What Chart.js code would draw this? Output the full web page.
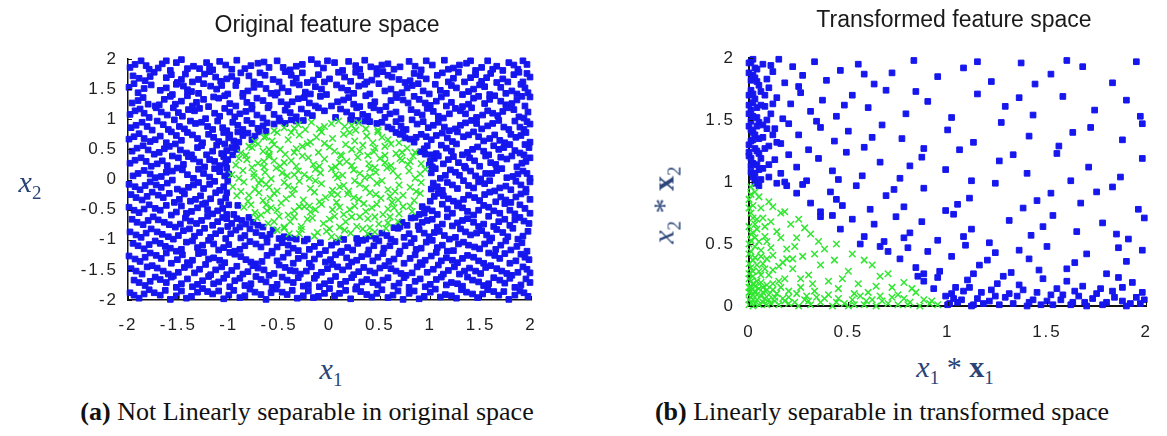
<!DOCTYPE html>
<html>
<head>
<meta charset="utf-8">
<script src="https://cdn.jsdelivr.net/npm/chart.js"></script>
<style>
  body { margin: 0; width: 1167px; height: 436px; background: #fff; position: relative; overflow: hidden; font-family: "Liberation Sans", Arial, sans-serif; }
  .box { position: absolute; top: 0; }
  .lbl { position: absolute; transform: translate(-50%, -50%); white-space: nowrap; }
  .rot { transform: translate(-50%, -50%) rotate(-90deg); }
  .title { font-size: 23px; color: #1a1a1a; }
  .math { font-family: "Liberation Serif", serif; font-size: 30px; color: #2a4478; }
  .math sub { font-size: 19px; font-style: normal; }
  .cap { font-family: "Liberation Serif", "Times New Roman", serif; font-size: 26px; color: #111; }
</style>
</head>
<body>
<div class="box" style="left:0;width:560px;height:345px"><canvas id="chartOrig" width="560" height="345"></canvas></div>
<div class="box" style="left:585px;width:582px;height:345px"><canvas id="chartTrans" width="582" height="345"></canvas></div>

<div class="lbl title" style="left:327px;top:24px">Original feature space</div>
<div class="lbl title" style="left:954px;top:19px">Transformed feature space</div>
<div class="lbl math" style="left:30px;top:184px"><i>x</i><sub>2</sub></div>
<div class="lbl math" style="left:331px;top:371px"><i>x</i><sub>1</sub></div>
<div class="lbl math" style="left:955px;top:369px"><i>x</i><sub>1</sub> * <b>x</b><sub>1</sub></div>
<div class="lbl math rot" style="left:666px;top:205px"><i>x</i><sub>2</sub> * <b>x</b><sub>2</sub></div>
<div class="lbl cap" style="left:307px;top:412px"><b>(a)</b> Not Linearly separable in original space</div>
<div class="lbl cap" style="left:882px;top:412px"><b>(b)</b> Linearly separable in transformed space</div>

<script>
// tick values
const origTicks = [-2, -1.5, -1, -0.5, 0, 0.5, 1, 1.5, 2];
const transTicks = [0, 0.5, 1, 1.5, 2];

// original space, flat x,y pairs (blue = outside unit circle)
const origBlue = [
  -1.98,1.86, -1.87,1.97, -1.79,1.83, -1.66,1.92, -1.58,1.81, -1.47,1.99, -1.35,1.88, -1.22,1.94, -1.16,1.82, -1.03,1.90, -0.92,1.98, -0.84,1.84, -0.71,1.93, -0.60,1.86, -0.52,1.97, -0.39,1.82, -0.27,1.91, -0.18,1.99, -0.06,1.85, 0.05,1.94, 0.13,1.81, 0.26,1.89, 0.35,1.98, 0.47,1.84, 0.58,1.92, 0.70,1.87, 0.79,1.96, 0.91,1.82, 1.02,1.90, 1.14,1.98, 1.23,1.85, 1.36,1.93, 1.45,1.81, 1.57,1.97, 1.66,1.88, 1.78,1.94, 1.87,1.83, 1.96,1.91,
  -1.95,1.72, -1.83,1.64, -1.74,1.78, -1.62,1.69, -1.51,1.61, -1.43,1.75, -1.30,1.66, -1.19,1.79, -1.08,1.63, -0.97,1.71, -0.88,1.77, -0.75,1.62, -0.64,1.73, -0.56,1.66, -0.44,1.79, -0.33,1.68, -0.22,1.61, -0.11,1.74, 0.00,1.67, 0.09,1.78, 0.21,1.63, 0.31,1.72, 0.42,1.65, 0.53,1.79, 0.62,1.70, 0.75,1.61, 0.84,1.76, 0.96,1.67, 1.07,1.73, 1.18,1.62, 1.28,1.78, 1.40,1.69, 1.51,1.63, 1.60,1.76, 1.72,1.67, 1.83,1.74, 1.92,1.62, 1.99,1.70,
  -1.99,1.53, -1.90,1.44, -1.77,1.57, -1.68,1.48, -1.56,1.41, -1.45,1.55, -1.37,1.46, -1.25,1.59, -1.12,1.50, -1.01,1.42, -0.93,1.56, -0.81,1.47, -0.69,1.58, -0.58,1.43, -0.47,1.52, -0.36,1.60, -0.24,1.45, -0.14,1.54, -0.03,1.41, 0.07,1.57, 0.18,1.48, 0.29,1.55, 0.40,1.42, 0.49,1.59, 0.61,1.50, 0.72,1.44, 0.82,1.56, 0.93,1.47, 1.05,1.58, 1.16,1.43, 1.26,1.52, 1.38,1.46, 1.49,1.57, 1.59,1.41, 1.70,1.53, 1.81,1.47, 1.90,1.58, 1.97,1.44,
  -1.96,1.27, -1.85,1.36, -1.73,1.22, -1.64,1.33, -1.53,1.25, -1.41,1.39, -1.32,1.28, -1.20,1.21, -1.10,1.35, -0.99,1.26, -0.86,1.38, -0.77,1.23, -0.66,1.31, -0.54,1.40, -0.42,1.24, -0.31,1.34, -0.20,1.27, -0.09,1.38, 0.02,1.22, 0.14,1.32, 0.24,1.25, 0.36,1.39, 0.45,1.29, 0.56,1.21, 0.67,1.36, 0.78,1.27, 0.89,1.33, 1.00,1.23, 1.11,1.37, 1.21,1.28, 1.32,1.21, 1.43,1.35, 1.54,1.26, 1.64,1.39, 1.75,1.24, 1.86,1.32, 1.94,1.22, 1.99,1.37,
  -1.98,1.08, -1.88,1.17, -1.79,1.03, -1.67,1.12, -1.55,1.19, -1.46,1.05, -1.34,1.14, -1.23,1.01, -1.14,1.10, -1.04,1.18, -0.94,1.04, -0.83,1.13, -0.72,1.07, -0.61,1.19, -0.50,1.02, -0.39,1.11, -0.28,1.17, -0.17,1.06, -0.05,1.14, 0.06,1.03, 0.17,1.12, 0.27,1.19, 0.38,1.05, 0.50,1.15, 0.60,1.09, 0.71,1.01, 0.81,1.16, 0.92,1.07, 1.03,1.13, 1.13,1.02, 1.25,1.18, 1.35,1.09, 1.46,1.03, 1.57,1.14, 1.67,1.06, 1.77,1.19, 1.88,1.04, 1.97,1.12,
  -1.97,0.86, -1.86,0.95, -1.76,0.82, -1.65,0.91, -1.54,0.99, -1.44,0.84, -1.33,0.93, -1.21,0.88, -1.11,0.97, -1.02,0.81, -0.91,0.90, -0.82,0.98, -0.71,0.85, -0.62,0.94, -0.49,0.97, -0.38,0.99, -0.26,0.98, 0.21,0.99, 0.35,0.97, 0.47,0.93, 0.58,0.87, 0.66,0.96, 0.76,0.83, 0.87,0.92, 0.98,0.86, 1.08,0.95, 1.19,0.81, 1.30,0.90, 1.41,0.98, 1.51,0.84, 1.62,0.93, 1.73,0.87, 1.84,0.97, 1.93,0.83, 1.99,0.92,
  -1.99,0.67, -1.89,0.76, -1.78,0.63, -1.68,0.72, -1.57,0.79, -1.47,0.65, -1.36,0.74, -1.26,0.61, -1.15,0.70, -1.05,0.78, -0.95,0.64, -0.86,0.73, -0.77,0.66, -0.70,0.79, -0.63,0.80, 0.66,0.78, 0.75,0.69, 0.84,0.62, 0.91,0.75, 1.01,0.66, 1.12,0.77, 1.22,0.63, 1.33,0.71, 1.43,0.79, 1.53,0.64, 1.64,0.74, 1.74,0.61, 1.85,0.70, 1.95,0.78,
  -1.96,0.47, -1.85,0.56, -1.74,0.42, -1.64,0.51, -1.53,0.59, -1.42,0.44, -1.31,0.53, -1.22,0.41, -1.12,0.57, -1.02,0.48, -0.93,0.59, -0.96,0.41, 0.90,0.46, 0.97,0.56, 1.06,0.43, 1.16,0.52, 1.26,0.59, 1.37,0.45, 1.47,0.54, 1.58,0.41, 1.68,0.50, 1.79,0.58, 1.89,0.44, 1.98,0.53,
  -1.98,0.27, -1.87,0.36, -1.77,0.22, -1.66,0.31, -1.56,0.39, -1.45,0.25, -1.35,0.34, -1.24,0.21, -1.14,0.30, -1.05,0.38, 0.99,0.24, 1.04,0.35, 1.13,0.26, 1.23,0.38, 1.34,0.22, 1.44,0.31, 1.55,0.39, 1.65,0.25, 1.76,0.34, 1.86,0.21, 1.95,0.30,
  -1.95,0.06, -1.84,0.15, -1.73,0.03, -1.62,0.12, -1.51,0.19, -1.41,0.08, -1.30,0.17, -1.19,0.04, -1.09,0.13, -1.02,0.19, 1.01,0.11, 1.10,0.02, 1.20,0.16, 1.29,0.07, 1.40,0.14, 1.50,0.01, 1.61,0.10, 1.71,0.18, 1.82,0.05, 1.92,0.14, 1.99,0.02,
  -1.99,-0.08, -1.88,-0.17, -1.78,-0.04, -1.67,-0.13, -1.56,-0.01, -1.46,-0.19, -1.35,-0.09, -1.25,-0.15, -1.14,-0.03, -1.05,-0.12, 1.03,-0.06, 1.12,-0.18, 1.22,-0.09, 1.33,-0.02, 1.43,-0.14, 1.54,-0.07, 1.64,-0.19, 1.75,-0.11, 1.85,-0.03, 1.95,-0.16,
  -1.97,-0.25, -1.86,-0.34, -1.76,-0.21, -1.65,-0.30, -1.54,-0.38, -1.44,-0.24, -1.33,-0.33, -1.23,-0.39, -1.13,-0.22, -1.03,-0.31, 1.00,-0.36, 1.08,-0.23, 1.18,-0.32, 1.28,-0.39, 1.38,-0.26, 1.49,-0.35, 1.59,-0.21, 1.70,-0.29, 1.80,-0.38, 1.90,-0.24, 1.99,-0.33,
  -1.99,-0.46, -1.89,-0.55, -1.79,-0.42, -1.68,-0.51, -1.57,-0.59, -1.47,-0.44, -1.37,-0.53, -1.26,-0.41, -1.16,-0.57, -1.06,-0.48, -0.95,-0.58, -0.91,-0.43, 0.92,-0.45, 0.89,-0.58, 1.02,-0.52, 1.12,-0.41, 1.22,-0.56, 1.32,-0.47, 1.43,-0.59, 1.53,-0.43, 1.63,-0.52, 1.74,-0.40, 1.84,-0.57, 1.94,-0.48,
  -1.96,-0.66, -1.85,-0.75, -1.75,-0.62, -1.64,-0.71, -1.53,-0.79, -1.43,-0.64, -1.32,-0.73, -1.21,-0.61, -1.11,-0.70, -1.01,-0.78, -0.92,-0.65, -0.83,-0.74, -0.80,-0.63, -0.66,-0.79, 0.64,-0.80, 0.72,-0.71, 0.81,-0.64, 0.88,-0.77, 0.97,-0.68, 1.07,-0.79, 1.17,-0.62, 1.27,-0.72, 1.37,-0.65, 1.48,-0.78, 1.58,-0.61, 1.68,-0.70, 1.79,-0.76, 1.89,-0.63, 1.98,-0.73,
  -1.98,-0.87, -1.87,-0.96, -1.77,-0.82, -1.66,-0.91, -1.55,-0.99, -1.45,-0.85, -1.34,-0.94, -1.24,-0.81, -1.13,-0.90, -1.03,-0.98, -0.93,-0.84, -0.84,-0.93, -0.73,-0.88, -0.62,-0.97, -0.56,-0.84, -0.45,-0.95, -0.33,-0.99, 0.27,-0.98, 0.40,-0.94, 0.52,-0.89, 0.61,-0.99, 0.68,-0.81, 0.79,-0.90, 0.89,-0.83, 0.99,-0.95, 1.09,-0.86, 1.19,-0.99, 1.30,-0.82, 1.40,-0.92, 1.51,-0.85, 1.61,-0.97, 1.72,-0.88, 1.82,-0.81, 1.92,-0.94,
  -1.95,-1.06, -1.84,-1.15, -1.73,-1.02, -1.63,-1.11, -1.52,-1.19, -1.42,-1.04, -1.31,-1.13, -1.20,-1.01, -1.10,-1.17, -1.00,-1.08, -0.89,-1.16, -0.79,-1.03, -0.68,-1.12, -0.57,-1.19, -0.47,-1.05, -0.36,-1.14, -0.25,-1.02, -0.15,-1.11, -0.04,-1.18, 0.07,-1.04, 0.18,-1.13, 0.28,-1.06, 0.39,-1.17, 0.49,-1.02, 0.60,-1.10, 0.70,-1.19, 0.81,-1.05, 0.91,-1.14, 1.02,-1.01, 1.12,-1.09, 1.23,-1.18, 1.33,-1.04, 1.44,-1.12, 1.54,-1.07, 1.65,-1.16, 1.75,-1.02, 1.86,-1.11, 1.96,-1.19,
  -1.99,-1.27, -1.88,-1.36, -1.78,-1.22, -1.67,-1.31, -1.57,-1.39, -1.46,-1.25, -1.36,-1.34, -1.25,-1.21, -1.15,-1.30, -1.04,-1.38, -0.94,-1.24, -0.83,-1.33, -0.73,-1.40, -0.62,-1.26, -0.52,-1.35, -0.41,-1.22, -0.31,-1.31, -0.20,-1.39, -0.10,-1.24, 0.01,-1.33, 0.11,-1.21, 0.22,-1.37, 0.32,-1.28, 0.43,-1.35, 0.53,-1.23, 0.64,-1.32, 0.74,-1.39, 0.85,-1.25, 0.95,-1.34, 1.06,-1.21, 1.16,-1.30, 1.27,-1.38, 1.37,-1.26, 1.48,-1.35, 1.58,-1.22, 1.69,-1.31, 1.79,-1.39, 1.90,-1.24, 1.98,-1.33,
  -1.97,-1.48, -1.86,-1.57, -1.76,-1.43, -1.65,-1.52, -1.55,-1.60, -1.44,-1.46, -1.34,-1.55, -1.23,-1.41, -1.13,-1.50, -1.02,-1.58, -0.92,-1.44, -0.81,-1.53, -0.71,-1.47, -0.60,-1.59, -0.50,-1.42, -0.39,-1.51, -0.29,-1.57, -0.18,-1.45, -0.08,-1.54, 0.03,-1.41, 0.13,-1.50, 0.24,-1.58, 0.34,-1.46, 0.45,-1.55, 0.55,-1.43, 0.66,-1.52, 0.76,-1.59, 0.87,-1.45, 0.97,-1.54, 1.08,-1.42, 1.18,-1.51, 1.29,-1.57, 1.39,-1.47, 1.50,-1.56, 1.60,-1.43, 1.71,-1.52, 1.81,-1.59, 1.92,-1.45, 1.99,-1.55,
  -1.94,-1.67, -1.83,-1.76, -1.73,-1.62, -1.62,-1.71, -1.52,-1.79, -1.41,-1.65, -1.31,-1.74, -1.20,-1.61, -1.10,-1.70, -0.99,-1.78, -0.89,-1.64, -0.78,-1.73, -0.68,-1.66, -0.57,-1.79, -0.47,-1.62, -0.36,-1.71, -0.26,-1.77, -0.15,-1.64, -0.05,-1.73, 0.06,-1.61, 0.16,-1.69, 0.27,-1.78, 0.37,-1.66, 0.48,-1.75, 0.58,-1.63, 0.69,-1.72, 0.79,-1.79, 0.90,-1.65, 1.00,-1.74, 1.11,-1.62, 1.21,-1.71, 1.32,-1.77, 1.42,-1.67, 1.53,-1.76, 1.63,-1.63, 1.74,-1.72, 1.84,-1.79, 1.95,-1.65,
  -1.98,-1.88, -1.89,-1.97, -1.79,-1.83, -1.68,-1.92, -1.58,-1.99, -1.47,-1.85, -1.37,-1.94, -1.26,-1.81, -1.16,-1.90, -1.05,-1.98, -0.95,-1.84, -0.84,-1.93, -0.74,-1.87, -0.63,-1.99, -0.53,-1.82, -0.42,-1.91, -0.32,-1.97, -0.21,-1.85, -0.11,-1.94, 0.00,-1.81, 0.10,-1.89, 0.21,-1.98, 0.31,-1.86, 0.42,-1.95, 0.52,-1.83, 0.63,-1.92, 0.73,-1.99, 0.84,-1.85, 0.94,-1.94, 1.05,-1.82, 1.15,-1.91, 1.26,-1.97, 1.36,-1.87, 1.47,-1.96, 1.57,-1.83, 1.68,-1.92, 1.78,-1.99, 1.89,-1.85, 1.97,-1.94,
  -1.93,1.91, -1.70,1.85, -1.52,1.94, -1.29,1.84, -1.09,1.96, -0.78,1.89, -0.46,1.86, -0.12,1.92, 0.19,1.96, 0.41,1.87, 0.64,1.83, 0.96,1.97, 1.29,1.90, 1.51,1.86, 1.72,1.81, 1.92,1.97,
  -1.89,1.68, -1.57,1.74, -1.36,1.62, -1.13,1.70, -0.92,1.64, -0.69,1.77, -0.38,1.73, -0.16,1.65, 0.15,1.70, 0.47,1.75, 0.69,1.66, 0.90,1.72, 1.23,1.68, 1.45,1.74, 1.66,1.61, 1.88,1.78,
  -1.94,1.59, -1.62,1.52, -1.41,1.49, -1.18,1.55, -0.86,1.43, -0.63,1.51, -0.41,1.46, -0.08,1.50, 0.24,1.43, 0.55,1.47, 0.77,1.52, 0.99,1.42, 1.21,1.56, 1.43,1.50, 1.75,1.43, 1.94,1.52,
  -1.90,1.31, -1.69,1.24, -1.47,1.30, -1.15,1.37, -0.93,1.22, -0.72,1.35, -0.48,1.29, -0.25,1.36, 0.08,1.29, 0.30,1.21, 0.61,1.31, 0.84,1.38, 1.06,1.30, 1.38,1.25, 1.59,1.33, 1.81,1.26,
  -1.93,1.14, -1.61,1.07, -1.40,1.16, -1.09,1.05, -0.89,1.09, -0.66,1.02, -0.44,1.15, -0.22,1.10, 0.11,1.17, 0.33,1.08, 0.55,1.03, 0.87,1.11, 1.08,1.05, 1.30,1.14, 1.62,1.10, 1.83,1.16,
  -1.92,0.90, -1.71,0.97, -1.49,0.88, -1.27,0.95, -1.06,0.86, -0.86,0.83, -0.66,0.89, -0.55,0.92, -0.33,0.97, 0.28,0.98, 0.52,0.95, 0.71,0.89, 0.93,0.96, 1.14,0.87, 1.35,0.94, 1.57,0.89, 1.78,0.83, 1.96,0.96,
  -1.94,0.71, -1.73,0.66, -1.52,0.73, -1.31,0.68, -1.10,0.63, -0.99,0.74, -0.90,0.62, -0.81,0.77, 0.70,0.75, 0.80,0.67, 0.96,0.71, 1.17,0.69, 1.38,0.74, 1.59,0.68, 1.80,0.75, 1.99,0.62,
  -1.91,0.52, -1.69,0.45, -1.48,0.49, -1.27,0.56, -1.07,0.43, -0.97,0.53, 0.94,0.51, 1.01,0.41, 1.21,0.47, 1.42,0.50, 1.63,0.56, 1.84,0.48, 1.94,0.58,
  -1.93,0.32, -1.71,0.26, -1.50,0.36, -1.29,0.29, -1.09,0.23, -1.01,0.33, 1.00,0.30, 1.08,0.39, 1.28,0.28, 1.49,0.22, 1.70,0.37, 1.91,0.27,
  -1.90,0.10, -1.67,0.05, -1.46,0.16, -1.25,0.10, -1.04,0.06, 1.05,0.18, 1.25,0.12, 1.45,0.06, 1.66,0.15, 1.87,0.09,
  -1.93,-0.12, -1.72,-0.09, -1.51,-0.16, -1.30,-0.05, -1.09,-0.18, 1.07,-0.12, 1.27,-0.15, 1.48,-0.04, 1.69,-0.14, 1.90,-0.09,
  -1.92,-0.30, -1.70,-0.26, -1.49,-0.33, -1.28,-0.27, -1.08,-0.37, 1.04,-0.28, 1.23,-0.36, 1.44,-0.30, 1.65,-0.37, 1.85,-0.29,
  -1.94,-0.51, -1.73,-0.48, -1.52,-0.54, -1.31,-0.47, -1.11,-0.52, -1.00,-0.42, 0.97,-0.49, 1.07,-0.58, 1.27,-0.44, 1.48,-0.51, 1.69,-0.56, 1.89,-0.42,
  -1.91,-0.71, -1.70,-0.67, -1.48,-0.74, -1.27,-0.68, -1.06,-0.63, -0.97,-0.73, -0.87,-0.68, -0.71,-0.76, 0.77,-0.76, 0.92,-0.71, 1.12,-0.74, 1.32,-0.68, 1.53,-0.74, 1.74,-0.66, 1.93,-0.69,
  -1.92,-0.92, -1.71,-0.87, -1.50,-0.93, -1.29,-0.88, -1.08,-0.85, -0.88,-0.97, -0.67,-0.93, -0.50,-0.98, -0.22,-0.99, 0.46,-0.98, 0.74,-0.96, 0.94,-0.89, 1.14,-0.93, 1.35,-0.87, 1.56,-0.92, 1.77,-0.95, 1.97,-0.86,
  -1.90,-1.10, -1.68,-1.06, -1.47,-1.16, -1.26,-1.09, -1.05,-1.13, -0.84,-1.10, -0.62,-1.04, -0.41,-1.09, -0.20,-1.16, 0.02,-1.09, 0.23,-1.17, 0.44,-1.10, 0.65,-1.03, 0.86,-1.16, 1.07,-1.13, 1.28,-1.07, 1.49,-1.15, 1.70,-1.09, 1.91,-1.05,
  -1.93,-1.32, -1.72,-1.26, -1.51,-1.33, -1.30,-1.23, -1.09,-1.34, -0.88,-1.28, -0.67,-1.36, -0.46,-1.29, -0.25,-1.27, -0.04,-1.37, 0.17,-1.30, 0.38,-1.24, 0.59,-1.36, 0.80,-1.31, 1.01,-1.27, 1.22,-1.34, 1.43,-1.29, 1.64,-1.26, 1.85,-1.35,
  -1.92,-1.52, -1.71,-1.47, -1.50,-1.54, -1.29,-1.49, -1.07,-1.45, -0.86,-1.57, -0.65,-1.50, -0.44,-1.46, -0.23,-1.52, -0.02,-1.48, 0.19,-1.44, 0.40,-1.52, 0.61,-1.48, 0.82,-1.55, 1.03,-1.49, 1.24,-1.45, 1.45,-1.52, 1.66,-1.48, 1.87,-1.54,
  -1.89,-1.71, -1.68,-1.66, -1.47,-1.73, -1.26,-1.68, -1.05,-1.64, -0.84,-1.76, -0.63,-1.70, -0.42,-1.67, -0.21,-1.75, 0.01,-1.68, 0.22,-1.63, 0.43,-1.71, 0.64,-1.77, 0.85,-1.69, 1.06,-1.66, 1.27,-1.73, 1.48,-1.70, 1.69,-1.67, 1.90,-1.75,
  -1.94,-1.92, -1.74,-1.88, -1.52,-1.93, -1.31,-1.87, -1.10,-1.85, -0.89,-1.96, -0.68,-1.91, -0.47,-1.87, -0.26,-1.93, -0.05,-1.89, 0.16,-1.84, 0.37,-1.91, 0.58,-1.96, 0.79,-1.89, 1.00,-1.87, 1.21,-1.93, 1.42,-1.90, 1.63,-1.86, 1.84,-1.92,
  -1.82,1.89, -1.62,1.97, -1.41,1.84, -1.19,1.88, -0.97,1.83, -0.65,1.95, -0.33,1.88, -0.02,1.97, 0.30,1.83, 0.52,1.90, 0.85,1.88, 1.18,1.83, 1.40,1.97, 1.62,1.83, 1.83,1.90,
  -1.78,1.71, -1.47,1.66, -1.24,1.75, -1.02,1.67, -0.80,1.72, -0.50,1.62, -0.27,1.77, -0.05,1.62, 0.26,1.78, 0.37,1.62, 0.58,1.73, 0.80,1.64, 1.12,1.77, 1.34,1.62, 1.56,1.69, 1.77,1.62, 1.96,1.76,
  -1.84,1.51, -1.52,1.58, -1.30,1.43, -1.07,1.56, -0.75,1.53, -0.52,1.44, -0.30,1.57, -0.19,1.42, 0.12,1.52, 0.35,1.58, 0.66,1.41, 0.88,1.59, 1.10,1.48, 1.32,1.41, 1.54,1.54, 1.86,1.42,
  -1.80,1.25, -1.58,1.38, -1.36,1.22, -1.25,1.33, -1.04,1.39, -0.82,1.28, -0.60,1.23, -0.37,1.29, -0.14,1.22, 0.19,1.36, 0.41,1.23, 0.73,1.32, 0.95,1.27, 1.16,1.22, 1.48,1.38, 1.70,1.30, 1.91,1.38,
  -1.84,1.10, -1.72,1.19, -1.50,1.11, -1.29,1.18, -0.99,1.12, -0.77,1.17, -0.55,1.08, -0.33,1.04, -0.11,1.19, 0.22,1.06, 0.44,1.19, 0.66,1.12, 0.97,1.18, 1.19,1.09, 1.41,1.19, 1.52,1.07, 1.72,1.13, 1.93,1.02,
  -1.81,0.88, -1.60,0.83, -1.38,0.97, -1.16,0.83, -0.96,0.95, -0.77,0.93, -0.44,0.93, 0.40,0.96, 0.62,0.84, 0.82,0.99, 1.03,0.90, 1.25,0.84, 1.46,0.93, 1.68,0.98, 1.89,0.87,
  -1.84,0.68, -1.62,0.61, -1.41,0.78, -1.20,0.75, -1.00,0.69, -0.91,0.79, -0.74,0.72, 0.73,0.79, 0.86,0.70, 1.06,0.73, 1.27,0.79, 1.48,0.71, 1.69,0.65, 1.90,0.73,
  -1.80,0.49, -1.59,0.55, -1.37,0.41, -1.16,0.47, -1.04,0.59, -0.92,0.50, 0.95,0.42, 1.11,0.57, 1.32,0.41, 1.53,0.47, 1.73,0.53, 1.93,0.41,
  -1.82,0.30, -1.61,0.23, -1.40,0.38, -1.19,0.33, -1.03,0.27, 1.02,0.21, 1.18,0.33, 1.39,0.36, 1.60,0.28, 1.81,0.39, 1.99,0.36,
  -1.78,0.09, -1.56,0.14, -1.35,0.02, -1.14,0.18, -1.00,0.09, 1.15,0.07, 1.35,0.19, 1.55,0.10, 1.76,0.03, 1.96,0.10,
  -1.83,-0.10, -1.61,-0.06, -1.40,-0.13, -1.19,-0.08, -1.01,-0.03, 1.01,-0.16, 1.17,-0.05, 1.38,-0.10, 1.59,-0.02, 1.80,-0.17, 1.99,-0.04,
  -1.81,-0.28, -1.59,-0.23, -1.38,-0.36, -1.18,-0.32, -1.02,-0.22, 1.13,-0.27, 1.33,-0.33, 1.54,-0.25, 1.75,-0.34, 1.95,-0.21,
  -1.84,-0.49, -1.62,-0.43, -1.42,-0.56, -1.21,-0.50, -1.02,-0.58, 0.94,-0.56, 1.17,-0.49, 1.37,-0.53, 1.58,-0.46, 1.79,-0.51, 1.99,-0.56,
  -1.80,-0.68, -1.59,-0.75, -1.38,-0.69, -1.16,-0.76, -1.02,-0.65, -0.89,-0.79, -0.76,-0.71, 0.70,-0.78, 0.85,-0.63, 1.02,-0.66, 1.22,-0.77, 1.43,-0.71, 1.63,-0.78, 1.84,-0.67,
  -1.82,-0.89, -1.60,-0.95, -1.39,-0.82, -1.18,-0.96, -0.98,-0.90, -0.79,-0.82, -0.59,-0.91, -0.39,-0.97, 0.14,-0.995, 0.36,-0.99, 0.57,-0.93, 0.84,-0.98, 1.04,-0.88, 1.25,-0.96, 1.46,-0.89, 1.66,-0.83, 1.87,-0.99,
  -1.79,-1.08, -1.58,-1.14, -1.36,-1.02, -1.15,-1.07, -0.94,-1.19, -0.73,-1.07, -0.52,-1.12, -0.31,-1.18, -0.09,-1.05, 0.12,-1.19, 0.33,-1.01, 0.54,-1.14, 0.75,-1.10, 0.96,-1.04, 1.17,-1.19, 1.38,-1.09, 1.59,-1.02, 1.80,-1.17,
  -1.83,-1.29, -1.62,-1.22, -1.41,-1.38, -1.20,-1.32, -0.99,-1.21, -0.78,-1.37, -0.57,-1.22, -0.36,-1.39, -0.15,-1.32, 0.06,-1.25, 0.27,-1.34, 0.48,-1.29, 0.69,-1.23, 0.90,-1.38, 1.11,-1.35, 1.32,-1.31, 1.53,-1.39, 1.74,-1.23, 1.94,-1.29,
  -1.81,-1.45, -1.60,-1.57, -1.39,-1.42, -1.18,-1.58, -0.97,-1.51, -0.76,-1.43, -0.55,-1.56, -0.34,-1.52, -0.13,-1.59, 0.08,-1.45, 0.29,-1.53, 0.50,-1.47, 0.71,-1.56, 0.92,-1.41, 1.13,-1.57, 1.34,-1.52, 1.55,-1.46, 1.76,-1.56, 1.96,-1.49,
  -1.78,-1.69, -1.57,-1.62, -1.36,-1.78, -1.15,-1.73, -0.94,-1.68, -0.73,-1.61, -0.52,-1.74, -0.31,-1.63, -0.10,-1.78, 0.11,-1.74, 0.32,-1.70, 0.53,-1.67, 0.74,-1.63, 0.95,-1.78, 1.16,-1.75, 1.37,-1.62, 1.58,-1.73, 1.79,-1.64, 1.99,-1.71,
  -1.84,-1.90, -1.63,-1.84, -1.42,-1.97, -1.21,-1.86, -1.00,-1.92, -0.79,-1.82, -0.58,-1.88, -0.37,-1.84, -0.16,-1.96, 0.05,-1.93, 0.26,-1.82, 0.47,-1.89, 0.68,-1.85, 0.89,-1.98, 1.10,-1.95, 1.31,-1.83, 1.52,-1.90, 1.73,-1.86, 1.93,-1.88
];

// original space, green = inside unit circle
const origGreen = [
  -0.45,0.86, -0.31,0.91, -0.18,0.95, -0.05,0.88, 0.09,0.97, 0.22,0.90, 0.36,0.84, 0.48,0.82, -0.55,0.81, 0.02,0.93, -0.24,0.83, 0.29,0.94,
  -0.74,0.63, -0.63,0.71, -0.52,0.78, -0.41,0.66, -0.30,0.74, -0.19,0.62, -0.08,0.79, 0.03,0.68, 0.14,0.75, 0.25,0.64, 0.37,0.72, 0.48,0.79, 0.58,0.66, 0.69,0.61, -0.57,0.64, -0.13,0.70, 0.20,0.78, 0.43,0.61,
  -0.88,0.44, -0.77,0.53, -0.66,0.47, -0.55,0.58, -0.44,0.42, -0.33,0.51, -0.22,0.59, -0.11,0.45, 0.00,0.54, 0.11,0.41, 0.22,0.50, 0.33,0.57, 0.44,0.46, 0.55,0.55, 0.66,0.43, 0.77,0.52, 0.85,0.45, -0.71,0.59, -0.49,0.50, 0.05,0.47, 0.38,0.40, 0.61,0.59,
  -0.93,0.24, -0.82,0.33, -0.71,0.27, -0.60,0.38, -0.49,0.22, -0.38,0.31, -0.27,0.39, -0.16,0.25, -0.05,0.34, 0.06,0.21, 0.17,0.30, 0.28,0.37, 0.39,0.26, 0.50,0.35, 0.61,0.23, 0.72,0.32, 0.83,0.39, 0.91,0.26, -0.65,0.21, -0.21,0.36, 0.12,0.39, 0.45,0.20,
  -0.97,0.08, -0.86,0.15, -0.75,0.04, -0.64,0.12, -0.53,0.19, -0.42,0.06, -0.31,0.14, -0.20,0.02, -0.09,0.11, 0.02,0.18, 0.13,0.07, 0.24,0.16, 0.35,0.03, 0.46,0.12, 0.57,0.19, 0.68,0.05, 0.79,0.14, 0.90,0.09, 0.95,0.17, -0.58,0.01, -0.14,0.17, 0.30,0.10,
  -0.96,-0.12, -0.85,-0.04, -0.74,-0.16, -0.63,-0.08, -0.52,-0.19, -0.41,-0.11, -0.30,-0.03, -0.19,-0.15, -0.08,-0.07, 0.03,-0.18, 0.14,-0.10, 0.25,-0.02, 0.36,-0.14, 0.47,-0.06, 0.58,-0.17, 0.69,-0.09, 0.80,-0.13, 0.91,-0.05, -0.68,-0.01, 0.19,-0.19, 0.52,-0.02,
  -0.92,-0.27, -0.81,-0.36, -0.70,-0.22, -0.59,-0.31, -0.48,-0.39, -0.37,-0.25, -0.26,-0.34, -0.15,-0.21, -0.04,-0.30, 0.07,-0.38, 0.18,-0.24, 0.29,-0.33, 0.40,-0.22, 0.51,-0.31, 0.62,-0.38, 0.73,-0.26, 0.84,-0.35, 0.90,-0.23, -0.55,-0.23, -0.10,-0.37, 0.34,-0.40,
  -0.85,-0.46, -0.74,-0.55, -0.63,-0.42, -0.52,-0.51, -0.41,-0.59, -0.30,-0.45, -0.19,-0.54, -0.08,-0.41, 0.03,-0.50, 0.14,-0.58, 0.25,-0.44, 0.36,-0.53, 0.47,-0.41, 0.58,-0.49, 0.69,-0.57, 0.80,-0.44, 0.82,-0.53, -0.68,-0.59, -0.35,-0.52, 0.10,-0.46, 0.53,-0.58,
  -0.72,-0.64, -0.61,-0.73, -0.50,-0.61, -0.39,-0.70, -0.28,-0.78, -0.17,-0.64, -0.06,-0.73, 0.05,-0.61, 0.16,-0.70, 0.27,-0.78, 0.38,-0.65, 0.49,-0.74, 0.60,-0.62, 0.68,-0.70, -0.45,-0.79, 0.10,-0.79, -0.22,-0.66,
  -0.52,-0.84, -0.40,-0.90, -0.28,-0.83, -0.15,-0.94, -0.03,-0.86, 0.09,-0.97, 0.21,-0.89, 0.33,-0.82, 0.45,-0.87, 0.56,-0.81, 0.02,-0.95, -0.45,-0.81,
  -0.80,0.55, -0.60,0.50, -0.35,0.45, -0.05,0.60, 0.30,0.47, 0.70,0.35, -0.90,0.35, -0.45,0.28, 0.10,0.28, 0.55,0.28, -0.75,0.10, -0.35,0.08, 0.08,0.03, 0.40,0.18, 0.85,0.02, -0.88,-0.20, -0.45,-0.05, 0.08,-0.25, 0.60,-0.28, -0.78,-0.42, -0.25,-0.45, 0.30,-0.62, 0.73,-0.45, -0.55,-0.70, 0.00,-0.82, 0.40,-0.80, -0.35,0.85, 0.15,0.88, -0.65,0.30, 0.78,0.25,
  -0.65,0.70, -0.38,0.78, -0.10,0.84, 0.26,0.82, 0.52,0.70, -0.83,0.40, -0.60,0.42, -0.27,0.55, 0.16,0.58, 0.45,0.52, 0.72,0.45, -0.77,0.20, -0.55,0.31, -0.33,0.22, -0.10,0.22, 0.22,0.23, 0.55,0.40, 0.80,0.30, -0.90,0.02, -0.70,-0.06, -0.47,0.11, -0.25,0.08, 0.06,0.08, 0.40,0.05, 0.63,0.14, 0.86,-0.20, -0.80,-0.26, -0.60,-0.13, -0.35,-0.16, -0.14,-0.02, 0.10,-0.12, 0.30,-0.08, 0.65,-0.20, -0.66,-0.35, -0.43,-0.32, -0.20,-0.44, 0.02,-0.25, 0.24,-0.30, 0.46,-0.25, 0.68,-0.34, -0.58,-0.47, -0.14,-0.50, 0.20,-0.50, 0.42,-0.47, 0.64,-0.47, -0.35,-0.62, 0.00,-0.66, 0.22,-0.62, 0.45,-0.62, -0.30,-0.90, 0.15,-0.84, 0.38,-0.90, -0.12,-0.88, 0.58,-0.72, -0.62,-0.52
];

// transformed space (x1*x1, x2*x2)
const transBlue = [
  0.01,1.97, 0.02,1.86, 0.03,1.92, 0.05,1.78, 0.07,1.95, 0.09,1.83, 0.12,1.89, 0.15,1.99, 0.18,1.80, 0.22,1.93, 0.27,1.86, 0.33,1.97, 0.39,1.82, 0.46,1.90, 0.55,1.95, 0.63,1.79, 0.72,1.88, 0.83,1.98, 0.95,1.85, 1.08,1.92, 1.22,1.81, 1.37,1.96, 1.52,1.87, 1.68,1.93, 1.83,1.80, 1.95,1.97, 0.04,1.81, 0.10,1.76, 0.25,1.77, 0.58,1.87, 1.15,1.97, 1.60,1.98, 1.44,1.79, 0.02,1.99,
  0.00,1.70, 0.01,1.58, 0.02,1.64, 0.04,1.52, 0.06,1.73, 0.08,1.61, 0.11,1.55, 0.14,1.68, 0.17,1.51, 0.21,1.63, 0.26,1.72, 0.31,1.57, 0.37,1.66, 0.44,1.53, 0.52,1.70, 0.60,1.60, 0.69,1.74, 0.79,1.55, 0.90,1.65, 1.02,1.52, 1.15,1.71, 1.29,1.61, 1.43,1.54, 1.58,1.69, 1.74,1.58, 1.90,1.66, 0.03,1.67, 0.09,1.50, 0.48,1.62, 0.84,1.73, 1.36,1.68, 1.97,1.53,
  0.00,1.45, 0.01,1.33, 0.02,1.40, 0.03,1.27, 0.05,1.48, 0.07,1.36, 0.10,1.29, 0.13,1.43, 0.16,1.31, 0.20,1.47, 0.25,1.38, 0.30,1.26, 0.36,1.44, 0.43,1.33, 0.50,1.41, 0.58,1.28, 0.67,1.46, 0.77,1.35, 0.88,1.27, 1.00,1.42, 1.13,1.32, 1.27,1.48, 1.41,1.37, 1.56,1.29, 1.72,1.44, 1.88,1.34, 0.04,1.25, 0.12,1.38, 0.34,1.49, 0.62,1.36, 1.06,1.26, 1.63,1.40, 1.98,1.47,
  0.00,1.21, 0.01,1.08, 0.02,1.15, 0.03,1.02, 0.05,1.23, 0.07,1.11, 0.10,1.04, 0.13,1.18, 0.16,1.07, 0.20,1.22, 0.24,1.12, 0.29,1.01, 0.35,1.19, 0.42,1.09, 0.49,1.24, 0.57,1.05, 0.66,1.16, 0.76,1.03, 0.87,1.20, 0.99,1.10, 1.12,1.01, 1.26,1.17, 1.40,1.07, 1.55,1.23, 1.71,1.12, 1.87,1.04, 1.98,1.19, 0.04,1.14, 0.18,1.00, 0.45,1.02, 0.81,1.13, 1.33,1.22, 1.62,1.01,
  0.27,0.98, 0.31,0.83, 0.24,0.91, 0.19,0.97, 0.36,0.76, 0.41,0.92, 0.47,0.81, 0.54,0.97, 0.61,0.78, 0.69,0.89, 0.78,0.80, 0.88,0.95, 0.99,0.77, 1.11,0.87, 1.24,0.99, 1.38,0.79, 1.52,0.91, 1.67,0.83, 1.83,0.96, 1.96,0.78, 0.14,0.99, 0.03,0.99, 0.05,0.97, 0.44,0.86, 0.73,0.94, 1.05,0.82, 1.45,0.85, 1.75,0.92,
  0.52,0.70, 0.58,0.56, 0.63,0.66, 0.68,0.52, 0.74,0.72, 0.81,0.59, 0.87,0.68, 0.95,0.53, 1.03,0.74, 1.12,0.62, 1.21,0.51, 1.31,0.69, 1.42,0.57, 1.53,0.73, 1.65,0.60, 1.78,0.67, 1.91,0.54, 1.99,0.71, 0.42,0.73, 0.36,0.72, 0.46,0.62, 0.56,0.50, 0.78,0.55, 1.08,0.56, 1.48,0.64, 1.85,0.58,
  0.80,0.47, 0.76,0.38, 0.84,0.31, 0.90,0.44, 0.96,0.28, 1.02,0.40, 1.09,0.49, 1.16,0.33, 1.24,0.43, 1.32,0.27, 1.41,0.38, 1.50,0.48, 1.60,0.30, 1.70,0.42, 1.80,0.26, 1.90,0.36, 1.98,0.45, 0.70,0.44, 0.66,0.48, 0.88,0.26, 1.13,0.26, 1.36,0.45, 1.64,0.35, 1.86,0.47, 1.46,0.29, 1.20,0.37,
  0.99,0.08, 1.01,0.02, 1.04,0.15, 1.07,0.05, 1.10,0.21, 1.13,0.01, 1.17,0.11, 1.21,0.04, 1.25,0.18, 1.29,0.07, 1.33,0.02, 1.38,0.13, 1.43,0.05, 1.48,0.22, 1.53,0.01, 1.58,0.09, 1.63,0.03, 1.68,0.16, 1.73,0.06, 1.78,0.01, 1.83,0.12, 1.88,0.04, 1.93,0.19, 1.97,0.02, 0.93,0.14, 0.88,0.20, 0.85,0.24, 0.95,0.23, 1.02,0.10, 1.15,0.06, 1.35,0.08, 1.55,0.14, 1.75,0.10, 1.95,0.07, 1.12,0.00, 1.40,0.00, 1.70,0.00, 1.28,0.24, 1.60,0.20, 1.86,0.23, 1.05,0.03, 1.45,0.11, 1.22,0.13, 1.66,0.08, 1.90,0.00,
  0.00,1.88, 0.01,1.74, 0.02,1.53, 0.00,1.30, 0.01,1.19, 0.03,1.38, 0.02,1.04, 0.06,1.62, 0.08,1.27, 0.04,1.91, 0.11,1.94, 0.05,1.10, 0.00,1.62, 0.01,1.42, 0.07,1.46,
  1.26,0.01, 1.50,0.04, 1.80,0.03, 1.62,0.01, 1.08,0.12, 1.98,0.11,
  0.00,1.96, 0.01,1.82, 0.02,1.71, 0.00,1.55, 0.01,1.49, 0.02,1.34, 0.00,1.24, 0.01,1.13, 0.03,1.07, 0.04,1.60, 0.03,1.84, 0.05,1.35, 0.06,1.19, 0.08,1.70, 0.09,1.43, 0.06,1.02, 0.04,1.45, 0.10,1.14, 0.12,1.63, 0.14,1.32,
  1.03,0.06, 1.18,0.02, 1.31,0.10, 1.47,0.01, 1.57,0.05, 1.69,0.03, 1.84,0.07, 1.92,0.02, 1.11,0.15, 1.36,0.17, 1.52,0.09, 1.77,0.14, 1.00,0.01, 1.41,0.03, 1.64,0.12, 1.99,0.05, 1.24,0.08, 1.88,0.15
];

const transGreen = [
  0.00,0.01, 0.01,0.03, 0.02,0.00, 0.00,0.05, 0.03,0.02, 0.01,0.07, 0.05,0.01, 0.02,0.09, 0.04,0.05, 0.07,0.03, 0.00,0.11, 0.06,0.08, 0.09,0.01, 0.03,0.12, 0.08,0.06, 0.01,0.15, 0.11,0.02, 0.05,0.14, 0.10,0.09, 0.13,0.04, 0.02,0.18, 0.07,0.11, 0.15,0.01, 0.12,0.13, 0.04,0.20, 0.17,0.06, 0.00,0.22, 0.09,0.17, 0.20,0.02, 0.14,0.10,
  0.00,0.26, 0.01,0.31, 0.02,0.37, 0.00,0.42, 0.03,0.48, 0.01,0.53, 0.02,0.59, 0.00,0.64, 0.04,0.70, 0.01,0.75, 0.02,0.81, 0.00,0.86, 0.03,0.92, 0.01,0.96, 0.05,0.28, 0.06,0.45, 0.04,0.62, 0.06,0.79, 0.05,0.88, 0.07,0.34, 0.08,0.56, 0.07,0.71, 0.02,0.24, 0.03,0.66, 0.00,0.50, 0.01,0.90,
  0.25,0.00, 0.31,0.01, 0.36,0.03, 0.42,0.00, 0.48,0.02, 0.53,0.01, 0.59,0.04, 0.64,0.00, 0.70,0.02, 0.75,0.01, 0.81,0.03, 0.86,0.00, 0.91,0.02, 0.95,0.01, 0.28,0.05, 0.45,0.06, 0.62,0.05, 0.78,0.06, 0.88,0.05, 0.34,0.07, 0.56,0.08, 0.72,0.07, 0.23,0.03, 0.67,0.04, 0.50,0.00, 0.92,0.04,
  0.10,0.25, 0.15,0.32, 0.12,0.41, 0.18,0.22, 0.22,0.30, 0.09,0.52, 0.14,0.60, 0.11,0.68, 0.16,0.75, 0.10,0.84, 0.19,0.46, 0.24,0.55, 0.21,0.66, 0.27,0.40, 0.30,0.25, 0.26,0.15, 0.33,0.12, 0.36,0.33, 0.40,0.20, 0.45,0.14, 0.50,0.28, 0.55,0.18, 0.60,0.11, 0.66,0.24, 0.72,0.15, 0.78,0.19, 0.84,0.11, 0.38,0.46, 0.31,0.58, 0.43,0.37, 0.52,0.42, 0.62,0.33, 0.25,0.70, 0.18,0.76, 0.35,0.52, 0.12,0.80, 0.47,0.22, 0.58,0.37, 0.70,0.26, 0.20,0.12, 0.29,0.08, 0.40,0.09, 0.12,0.18, 0.08,0.30, 0.23,0.48, 0.06,0.40, 0.16,0.55, 0.44,0.50, 0.33,0.42, 0.28,0.63, 0.19,0.38, 0.53,0.10, 0.64,0.16, 0.75,0.09, 0.82,0.14,
  0.03,0.16, 0.06,0.19, 0.09,0.13, 0.13,0.07, 0.18,0.04, 0.16,0.15, 0.01,0.20, 0.04,0.09, 0.10,0.05, 0.07,0.15,
  0.00,0.15, 0.01,0.12, 0.02,0.05, 0.00,0.34, 0.01,0.44, 0.02,0.28, 0.01,0.58, 0.03,0.39, 0.02,0.71, 0.00,0.79, 0.04,0.33, 0.05,0.52, 0.03,0.55, 0.06,0.25, 0.09,0.38, 0.08,0.64, 0.11,0.47, 0.12,0.29, 0.15,0.20, 0.20,0.07, 0.24,0.10, 0.30,0.04, 0.38,0.06, 0.44,0.03, 0.52,0.05, 0.58,0.01, 0.66,0.08, 0.80,0.01, 0.17,0.35, 0.26,0.22, 0.22,0.38, 0.32,0.18
];

const BLUE = 'rgb(22,22,238)';
const GREEN = 'rgb(48,232,48)';

function toPoints(flat) {
  const pts = [];
  for (let i = 0; i < flat.length; i += 2) pts.push({ x: flat[i], y: flat[i + 1] });
  return pts;
}

// small ticks pointing into the plot, plus wider tracking on tick labels
const innerTicks = {
  id: 'innerTicks',
  beforeDraw(chart) { chart.ctx.letterSpacing = '2px'; },
  afterDraw(chart) {
    const { ctx, chartArea: a, scales: { x, y } } = chart;
    ctx.letterSpacing = '0px';
    ctx.save();
    ctx.strokeStyle = '#111';
    ctx.lineWidth = 1;
    x.ticks.forEach(t => {
      const px = Math.round(x.getPixelForValue(t.value)) + 0.5;
      ctx.beginPath(); ctx.moveTo(px, a.bottom); ctx.lineTo(px, a.bottom - 4); ctx.stroke();
    });
    y.ticks.forEach(t => {
      const py = Math.round(y.getPixelForValue(t.value)) + 0.5;
      ctx.beginPath(); ctx.moveTo(a.left, py); ctx.lineTo(a.left + 4, py); ctx.stroke();
    });
    ctx.restore();
  }
};

function axis(tickVals, fit, pad, bw) {
  return {
    type: 'linear',
    min: tickVals[0],
    max: tickVals[tickVals.length - 1],
    afterBuildTicks: s => { s.ticks = tickVals.map(v => ({ value: v })); },
    afterFit: fit,
    grid: { display: false, drawTicks: false },
    border: { display: true, color: '#111', width: bw },
    ticks: {
      padding: pad,
      color: '#1e1e1e',
      font: { family: 'Liberation Sans', size: 17 },
      callback: v => String(v)
    }
  };
}

function makeChart(id, green, blue, ticks, opts) {
  return new Chart(document.getElementById(id), {
    type: 'scatter',
    data: {
      datasets: [
        { data: toPoints(green), pointStyle: 'crossRot', pointRadius: 4.6, borderColor: GREEN, backgroundColor: GREEN, pointBorderWidth: 1.5, clip: false },
        { data: toPoints(blue), pointStyle: 'rect', pointRadius: 4, borderColor: BLUE, backgroundColor: BLUE, pointBorderWidth: 1, clip: false }
      ]
    },
    options: {
      responsive: false,
      animation: false,
      events: [],
      layout: { padding: opts.padding },
      plugins: { legend: { display: false }, tooltip: { enabled: false } },
      scales: {
        x: axis(ticks, s => { s.height = opts.xHeight; }, opts.xPad, opts.border),
        y: axis(ticks, s => { s.width = opts.yWidth; }, opts.yPad, opts.border)
      }
    },
    plugins: [innerTicks]
  });
}

makeChart('chartOrig', origGreen, origBlue, origTicks, {
  padding: { top: 59, right: 29, left: 0, bottom: 0 },
  yWidth: 128, xHeight: 45, xPad: 15, yPad: 10, border: 1.5
});

makeChart('chartTrans', transGreen, transBlue, transTicks, {
  padding: { top: 58, right: 7, left: 0, bottom: 0 },
  yWidth: 164, xHeight: 39, xPad: 16, yPad: 14, border: 2
});
</script>
</body>
</html>
